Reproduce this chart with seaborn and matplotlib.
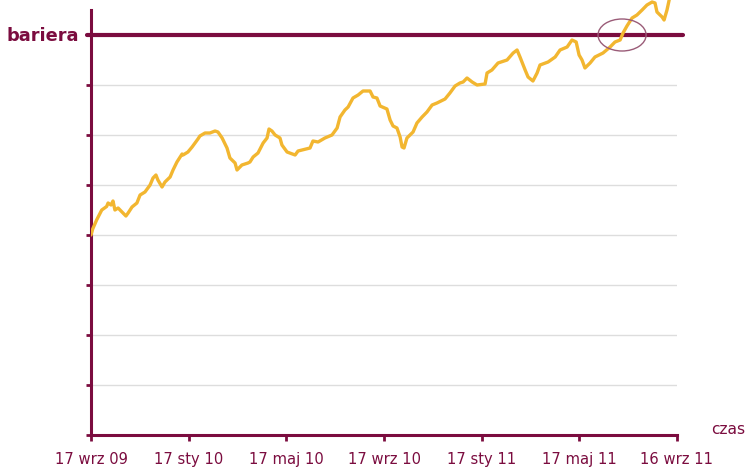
import matplotlib
matplotlib.use("Agg")
import matplotlib.pyplot as plt
from matplotlib.patches import Ellipse
import seaborn as sns
import pandas as pd

# months since 17 wrz 09 and index level (barrier = 8)
months = [0.00, 0.07, 0.23, 0.44, 0.64, 0.70, 0.82, 0.90, 0.98, 1.11, 1.31, 1.43, 1.52, 1.68, 1.88,
          2.01, 2.21, 2.42, 2.54, 2.66, 2.74, 2.91, 3.03, 3.24, 3.36, 3.52, 3.73, 3.77, 3.97, 4.14,
          4.38, 4.46, 4.67, 4.87, 5.08, 5.20, 5.37, 5.57, 5.69, 5.90, 5.98, 6.18, 6.43, 6.51, 6.64,
          6.84, 7.05, 7.21, 7.29, 7.41, 7.54, 7.74, 7.82, 8.03, 8.36, 8.48, 8.97, 9.09, 9.30, 9.58,
          9.87, 10.08, 10.20, 10.40, 10.53, 10.73, 10.94, 11.14, 11.43, 11.55, 11.71, 11.84, 12.12,
          12.25, 12.37, 12.53, 12.66, 12.74, 12.82, 12.94, 13.19, 13.35, 13.56, 13.76, 13.97, 14.17,
          14.50, 14.70, 14.91, 15.11, 15.24, 15.40, 15.61, 15.81, 16.14, 16.22, 16.42, 16.67, 17.04,
          17.29, 17.45, 17.57, 17.78, 17.90, 18.10, 18.27, 18.39, 18.72, 19.01, 19.21, 19.50, 19.70,
          19.87, 19.99, 20.11, 20.23, 20.44, 20.64, 20.97, 21.26, 21.46, 21.67, 21.79, 21.95, 22.16,
          22.36, 22.57, 22.77, 22.98, 23.10, 23.18, 23.39, 23.47, 23.59, 23.68, 23.72]
values = [4.00, 4.12, 4.30, 4.50, 4.57, 4.64, 4.60, 4.68, 4.50, 4.54, 4.44, 4.38, 4.44, 4.56, 4.64,
          4.80, 4.86, 5.00, 5.14, 5.20, 5.10, 4.96, 5.06, 5.16, 5.30, 5.46, 5.62, 5.60, 5.66, 5.76,
          5.92, 5.98, 6.04, 6.04, 6.08, 6.06, 5.94, 5.74, 5.54, 5.44, 5.30, 5.40, 5.44, 5.46, 5.56,
          5.64, 5.84, 5.94, 6.12, 6.08, 6.00, 5.94, 5.80, 5.66, 5.60, 5.68, 5.74, 5.88, 5.86, 5.94,
          6.00, 6.14, 6.36, 6.50, 6.56, 6.74, 6.80, 6.88, 6.88, 6.76, 6.74, 6.58, 6.52,
          6.30, 6.18, 6.14, 5.96, 5.76, 5.74, 5.94, 6.06, 6.24, 6.36, 6.46, 6.60, 6.64,
          6.72, 6.84, 6.98, 7.04, 7.06, 7.14, 7.06, 7.00, 7.02, 7.24, 7.30, 7.44, 7.50,
          7.64, 7.70, 7.56, 7.30, 7.16, 7.08, 7.24, 7.40, 7.46, 7.56, 7.70, 7.76, 7.90,
          7.86, 7.60, 7.50, 7.34, 7.44, 7.56, 7.64, 7.76, 7.86, 7.90, 8.04, 8.18, 8.34,
          8.40, 8.50, 8.60, 8.66, 8.64, 8.46, 8.36, 8.30, 8.50, 8.70, 8.80]

barrier = 8
tick_months = [0, 4, 8, 12, 16, 20, 24]
tick_labels = ["17 wrz 09", "17 sty 10", "17 maj 10", "17 wrz 10", "17 sty 11", "17 maj 11", "16 wrz 11"]

maroon = "#7B0C3F"
gold = "#F2B630"

df = pd.DataFrame({"miesiac": months, "wartosc": values})

sns.set_style("white")
plt.rcParams["font.family"] = ["DejaVu Sans"]

fig = plt.figure(figsize=(7.49, 4.68), dpi=100)
ax = fig.add_axes([91 / 749, 33 / 468, 586 / 749, 435 / 468])

# siatka
for yv in range(1, barrier):
    ax.axhline(yv, color="#DDDDDD", lw=1, zorder=0)

sns.lineplot(data=df, x="miesiac", y="wartosc", ax=ax, color=gold, lw=2.4, zorder=3)

# bariera
ax.axhline(barrier, xmin=-0.006, xmax=1.01, color=maroon, lw=3, clip_on=False, zorder=2)

ax.add_patch(Ellipse((21.75, barrier), 1.97, 0.64, fill=False, ec="#9A5C78", lw=1, zorder=4))

ax.set_xlim(0, 24)
ax.set_ylim(0, 8.7)
ax.set_xticks(tick_months)
ax.set_xticklabels(tick_labels, color=maroon, fontsize=10.6)
ax.set_yticks(range(0, barrier + 1))
ax.set_yticklabels([])
ax.set_xlabel("")
ax.set_ylabel("")

for s in ["top", "right"]:
    ax.spines[s].set_visible(False)
ax.spines["left"].set_color(maroon)
ax.spines["bottom"].set_color(maroon)
ax.spines["left"].set_linewidth(2.2)
ax.spines["bottom"].set_linewidth(2.2)
ax.spines["left"].set_bounds(0, 8.5)
ax.tick_params(axis="x", length=4.5, width=2, color=maroon, pad=8, direction="out")
ax.tick_params(axis="y", length=3.5, width=2, color=maroon, direction="out")
ax.tick_params(bottom=True, left=True)

fig.text(43 / 749, 1 - 36 / 468, "bariera", color=maroon, fontsize=12.8, fontweight="bold",
         ha="center", va="center")
fig.text(728 / 749, 1 - 430 / 468, "czas", color=maroon, fontsize=11.2, ha="center", va="center")

fig.savefig("out.png", dpi=100)
